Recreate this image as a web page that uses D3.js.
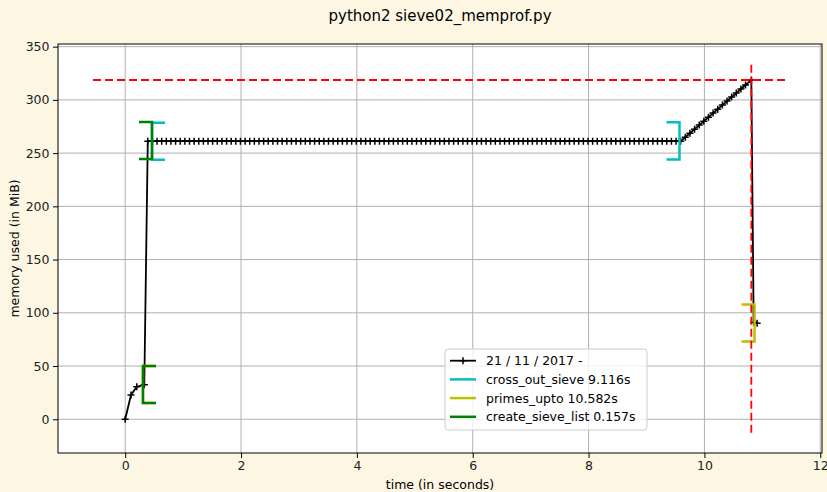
<html lang="en">
<head>
    <title>python2 sieve02_memprof.py</title>
    <meta charset="utf-8">
    <script src="https://cdn.jsdelivr.net/npm/d3@7"></script>
    <style>
        body { margin: 0; background: #fdf6e3; }
        text { font-family: "DejaVu Sans", sans-serif; }
    </style>
</head>
<body></body>

<script type="text/javascript">

    //	Data

    const times = [
        0.00, 0.10, 0.20, 0.33,
        0.39, 0.47, 0.55, 0.63, 0.71, 0.79, 0.87, 0.95, 1.03, 1.11,
        1.19, 1.27, 1.35, 1.43, 1.51, 1.59, 1.67, 1.75, 1.83, 1.91,
        1.99, 2.07, 2.15, 2.23, 2.31, 2.39, 2.47, 2.55, 2.63, 2.71,
        2.79, 2.87, 2.95, 3.03, 3.11, 3.19, 3.27, 3.35, 3.43, 3.51,
        3.59, 3.67, 3.75, 3.83, 3.91, 3.99, 4.07, 4.15, 4.23, 4.31,
        4.39, 4.47, 4.55, 4.63, 4.71, 4.79, 4.87, 4.95, 5.03, 5.11,
        5.19, 5.27, 5.35, 5.43, 5.51, 5.59, 5.67, 5.75, 5.83, 5.91,
        5.99, 6.07, 6.15, 6.23, 6.31, 6.39, 6.47, 6.55, 6.63, 6.71,
        6.79, 6.87, 6.95, 7.03, 7.11, 7.19, 7.27, 7.35, 7.43, 7.51,
        7.59, 7.67, 7.75, 7.83, 7.91, 7.99, 8.07, 8.15, 8.23, 8.31,
        8.39, 8.47, 8.55, 8.63, 8.71, 8.79, 8.87, 8.95, 9.03, 9.11,
        9.19, 9.27, 9.35, 9.43, 9.51, 9.59,
        9.67, 9.75, 9.83, 9.91, 9.99, 10.07, 10.15, 10.23, 10.31, 10.39,
        10.47, 10.55, 10.63, 10.71, 10.81,
        10.85, 10.91
    ];

    const memory = [
        0.0, 22.8, 30.6, 32.4,
        261.2, 261.2, 261.2, 261.2, 261.2, 261.2, 261.2, 261.2, 261.2, 261.2,
        261.2, 261.2, 261.2, 261.2, 261.2, 261.2, 261.2, 261.2, 261.2, 261.2,
        261.2, 261.2, 261.2, 261.2, 261.2, 261.2, 261.2, 261.2, 261.2, 261.2,
        261.2, 261.2, 261.2, 261.2, 261.2, 261.2, 261.2, 261.2, 261.2, 261.2,
        261.2, 261.2, 261.2, 261.2, 261.2, 261.2, 261.2, 261.2, 261.2, 261.2,
        261.2, 261.2, 261.2, 261.2, 261.2, 261.2, 261.2, 261.2, 261.2, 261.2,
        261.2, 261.2, 261.2, 261.2, 261.2, 261.2, 261.2, 261.2, 261.2, 261.2,
        261.2, 261.2, 261.2, 261.2, 261.2, 261.2, 261.2, 261.2, 261.2, 261.2,
        261.2, 261.2, 261.2, 261.2, 261.2, 261.2, 261.2, 261.2, 261.2, 261.2,
        261.2, 261.2, 261.2, 261.2, 261.2, 261.2, 261.2, 261.2, 261.2, 261.2,
        261.2, 261.2, 261.2, 261.2, 261.2, 261.2, 261.2, 261.2, 261.2, 261.2,
        261.2, 261.2, 261.2, 261.2, 261.2, 261.2,
        265.0, 268.7, 272.5, 276.3, 280.0, 283.8, 287.6, 291.3, 295.1, 298.9,
        302.7, 306.4, 310.2, 314.0, 318.7,
        91.0, 90.2
    ];

    // function brackets: name, start/end time, start/end memory, colour
    const funcNames  = ["cross_out_sieve", "primes_upto", "create_sieve_list"];
    const funcLabels = ["cross_out_sieve 9.116s", "primes_upto 10.582s", "create_sieve_list 0.157s"];
    const funcStart  = [0.463, 0.307, 0.307];
    const funcEnd    = [9.57, 10.865, 0.463];
    const funcMemStart = [261.2, 32.7, 32.7];
    const funcMemEnd   = [261.5, 90.5, 261.9];
    const funcColors = ["#00bfbf", "#bfbf00", "#008000"];

    const maxMem = 318.7;
    const maxMemTime = 10.81;

    const xTicks = [0, 2, 4, 6, 8, 10, 12];
    const yTicks = [0, 50, 100, 150, 200, 250, 300, 350];

    const lineLabel = "21 / 11 / 2017 -";

    //****************************************************************************************************************************//
    //	Layout

    const W = 827, H = 492;
    const plotLeft = 58, plotRight = 822, plotTop = 44, plotBottom = 453;

    const x = d3.scaleLinear().domain([-1.16, 12.03]).range([plotLeft, plotRight]);
    const y = d3.scaleLinear().domain([-31.7, 352.5]).range([plotBottom, plotTop]);

    const svg = d3.select("body").append("svg")
        .attr("width", W).attr("height", H);

    svg.append("rect").attr("width", W).attr("height", H).attr("fill", "#fdf6e3");
    svg.append("rect")
        .attr("x", plotLeft).attr("y", plotTop)
        .attr("width", plotRight - plotLeft).attr("height", plotBottom - plotTop)
        .attr("fill", "white");

    //	Grid

    const grid = svg.append("g").attr("stroke", "#b0b0b0").attr("stroke-width", 1);
    grid.selectAll(".gx").data(xTicks).enter().append("line")
        .attr("x1", d => x(d)).attr("x2", d => x(d))
        .attr("y1", plotTop).attr("y2", plotBottom);
    grid.selectAll(".gy").data(yTicks).enter().append("line")
        .attr("y1", d => y(d)).attr("y2", d => y(d))
        .attr("x1", plotLeft).attr("x2", plotRight);

    //	Memory line with + markers

    const points = d3.zip(times, memory);

    svg.append("path")
        .datum(points)
        .attr("fill", "none")
        .attr("stroke", "black")
        .attr("stroke-width", 1.8)
        .attr("d", d3.line().x(d => x(d[0])).y(d => y(d[1])));

    svg.append("g").selectAll("path").data(points).enter().append("path")
        .attr("transform", d => `translate(${x(d[0])},${y(d[1])})`)
        .attr("d", "M-3.5,0H3.5M0,-3.5V3.5")
        .attr("stroke", "black")
        .attr("stroke-width", 1.5);

    //	Brackets

    const hsize = 0.225, vsize = 17.4;
    funcNames.forEach((name, i) => {
        const g = svg.append("g")
            .attr("fill", "none")
            .attr("stroke", funcColors[i])
            .attr("stroke-width", 2.5);
        const xs = funcStart[i], xe = funcEnd[i];
        const ms = funcMemStart[i], me = funcMemEnd[i];
        g.append("path").attr("d",
            `M${x(xs + hsize)},${y(ms + vsize)}H${x(xs)}V${y(ms - vsize)}H${x(xs + hsize)}`);
        g.append("path").attr("d",
            `M${x(xe - hsize)},${y(me + vsize)}H${x(xe)}V${y(me - vsize)}H${x(xe - hsize)}`);
    });

    //	Max memory markers

    svg.append("line")
        .attr("x1", x(-0.556)).attr("x2", x(11.46))
        .attr("y1", y(maxMem)).attr("y2", y(maxMem))
        .attr("stroke", "red").attr("stroke-width", 1.8)
        .attr("stroke-dasharray", "8,4");
    svg.append("line")
        .attr("x1", x(maxMemTime)).attr("x2", x(maxMemTime))
        .attr("y1", y(333)).attr("y2", y(-14.6))
        .attr("stroke", "red").attr("stroke-width", 1.8)
        .attr("stroke-dasharray", "8,4");

    //	Frame and axes

    svg.append("rect")
        .attr("x", plotLeft).attr("y", plotTop)
        .attr("width", plotRight - plotLeft).attr("height", plotBottom - plotTop)
        .attr("fill", "none").attr("stroke", "black").attr("stroke-width", 1);

    const xAxis = svg.append("g")
        .attr("transform", `translate(0,${plotBottom})`)
        .call(d3.axisBottom(x).tickValues(xTicks).tickSize(5).tickPadding(3.5).tickSizeOuter(0));
    const yAxis = svg.append("g")
        .attr("transform", `translate(${plotLeft},0)`)
        .call(d3.axisLeft(y).tickValues(yTicks).tickSize(5).tickPadding(3.5).tickSizeOuter(0));

    [xAxis, yAxis].forEach(a => {
        a.select(".domain").remove();
        a.selectAll("text")
            .style("font-family", "DejaVu Sans")
            .style("font-size", "12.5px")
            .attr("fill", "#222");
    });

    //	Labels

    svg.append("text")
        .attr("x", (plotLeft + plotRight) / 2).attr("y", 21)
        .attr("text-anchor", "middle")
        .style("font-size", "15px")
        .text("python2 sieve02_memprof.py");

    svg.append("text")
        .attr("x", (plotLeft + plotRight) / 2).attr("y", 489)
        .attr("text-anchor", "middle")
        .style("font-size", "12.5px")
        .text("time (in seconds)");

    svg.append("text")
        .attr("transform", `translate(19,${(plotTop + plotBottom) / 2}) rotate(-90)`)
        .attr("text-anchor", "middle")
        .style("font-size", "12.5px")
        .text("memory used (in MiB)");

    //	Legend

    const legend = svg.append("g").attr("transform", "translate(445,349)");
    legend.append("rect")
        .attr("width", 202).attr("height", 81).attr("rx", 3)
        .attr("fill", "white").attr("fill-opacity", 0.8)
        .attr("stroke", "#cccccc");

    const entries = [{label: lineLabel, color: "black", marker: true}]
        .concat(funcLabels.map((l, i) => ({label: l, color: funcColors[i], marker: false})));

    entries.forEach((e, i) => {
        const row = legend.append("g").attr("transform", `translate(0,${11.7 + i * 18.7})`);
        row.append("line")
            .attr("x1", 5).attr("x2", 31)
            .attr("stroke", e.color)
            .attr("stroke-width", e.marker ? 1.8 : 2.5);
        if (e.marker) {
            row.append("path")
                .attr("transform", "translate(18,0)")
                .attr("d", "M-3.5,0H3.5M0,-3.5V3.5")
                .attr("stroke", "black").attr("stroke-width", 1.5);
        }
        row.append("text")
            .attr("x", 41).attr("y", 4.5)
            .style("font-size", "12.5px")
            .text(e.label);
    });

</script>
</html>
